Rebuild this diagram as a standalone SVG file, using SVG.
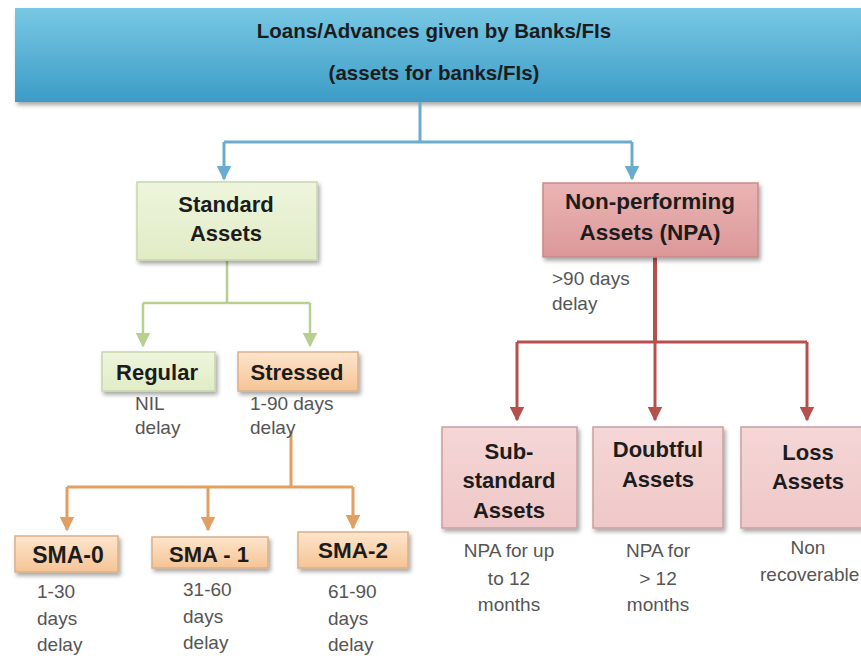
<svg xmlns="http://www.w3.org/2000/svg" width="861" height="660" viewBox="0 0 861 660">
<defs>
<linearGradient id="gBanner" x1="0" y1="0" x2="0" y2="1">
<stop offset="0" stop-color="#78c8e4"/><stop offset="1" stop-color="#3c9cc6"/>
</linearGradient>
<linearGradient id="gGreen" x1="0" y1="0" x2="0" y2="1">
<stop offset="0" stop-color="#eef5dd"/><stop offset="1" stop-color="#e1ecc6"/>
</linearGradient>
<linearGradient id="gOrange" x1="0" y1="0" x2="0" y2="1">
<stop offset="0" stop-color="#fde5cc"/><stop offset="1" stop-color="#f6c495"/>
</linearGradient>
<linearGradient id="gRed" x1="0" y1="0" x2="0" y2="1">
<stop offset="0" stop-color="#eab4b4"/><stop offset="1" stop-color="#dc9899"/>
</linearGradient>
<linearGradient id="gPink" x1="0" y1="0" x2="0" y2="1">
<stop offset="0" stop-color="#f5d6d6"/><stop offset="1" stop-color="#efc7c8"/>
</linearGradient>
<filter id="sh" x="-10%" y="-10%" width="130%" height="140%">
<feDropShadow dx="2" dy="3" stdDeviation="2" flood-color="#000" flood-opacity="0.35"/>
</filter>
<marker id="aBlue" viewBox="0 0 10 10" refX="9" refY="5" markerWidth="5" markerHeight="5" orient="auto" markerUnits="strokeWidth">
<path d="M0,0 L10,5 L0,10 Z" fill="#6aaccd"/>
</marker>
<marker id="aGreen" viewBox="0 0 10 10" refX="9" refY="5" markerWidth="6" markerHeight="6" orient="auto" markerUnits="strokeWidth">
<path d="M0,0 L10,5 L0,10 Z" fill="#b7d090"/>
</marker>
<marker id="aOrange" viewBox="0 0 10 10" refX="9" refY="5" markerWidth="5" markerHeight="5" orient="auto" markerUnits="strokeWidth">
<path d="M0,0 L10,5 L0,10 Z" fill="#e19f62"/>
</marker>
<marker id="aRed" viewBox="0 0 10 10" refX="9" refY="5" markerWidth="5" markerHeight="5" orient="auto" markerUnits="strokeWidth">
<path d="M0,0 L10,5 L0,10 Z" fill="#b5504e"/>
</marker>
</defs>
<style>
.t{font-family:"Liberation Sans",Arial,sans-serif;font-weight:bold;fill:#1c1c1c;text-anchor:middle;font-size:22px}
.s{font-size:22.5px}
.g{font-family:"Liberation Sans",Arial,sans-serif;fill:#555;font-size:19px}
.m{text-anchor:middle}
.c{fill:none;stroke-linejoin:miter}
</style>
<rect width="861" height="660" fill="#ffffff"/>

<g id="banner">
<rect x="15" y="8" width="860" height="94" fill="url(#gBanner)" filter="url(#sh)"/>
<text class="t" x="434" y="38" font-size="20.5" style="font-size:20.5px">Loans/Advances given by Banks/FIs</text>
<text class="t" x="434" y="80" style="font-size:20.5px">(assets for banks/FIs)</text>
</g>

<g id="connectors">
<path class="c" d="M420,102 V142 M224,142 H632" stroke="#6aaccd" stroke-width="3"/>
<path class="c" d="M224,142 V179" stroke="#6aaccd" stroke-width="3" marker-end="url(#aBlue)"/>
<path class="c" d="M632,142 V179" stroke="#6aaccd" stroke-width="3" marker-end="url(#aBlue)"/>

<path class="c" d="M227,261 V303 M143,303 H310" stroke="#b7d090" stroke-width="2.5"/>
<path class="c" d="M143,303 V346" stroke="#b7d090" stroke-width="2.5" marker-end="url(#aGreen)"/>
<path class="c" d="M310,303 V346" stroke="#b7d090" stroke-width="2.5" marker-end="url(#aGreen)"/>

<path class="c" d="M291,432 V487 M67,487 H353" stroke="#e19f62" stroke-width="3"/>
<path class="c" d="M67,487 V530" stroke="#e19f62" stroke-width="3" marker-end="url(#aOrange)"/>
<path class="c" d="M208,487 V530" stroke="#e19f62" stroke-width="3" marker-end="url(#aOrange)"/>
<path class="c" d="M353,487 V528" stroke="#e19f62" stroke-width="3" marker-end="url(#aOrange)"/>

<path class="c" d="M655,257 V342" stroke="#b5504e" stroke-width="4"/>
<path class="c" d="M517,342 H807" stroke="#b5504e" stroke-width="3"/>
<path class="c" d="M517,342 V420" stroke="#b5504e" stroke-width="3" marker-end="url(#aRed)"/>
<path class="c" d="M655,342 V420" stroke="#b5504e" stroke-width="3" marker-end="url(#aRed)"/>
<path class="c" d="M807,342 V420" stroke="#b5504e" stroke-width="3" marker-end="url(#aRed)"/>
</g>

<g id="standard">
<rect x="137" y="182" width="180" height="78" fill="url(#gGreen)" stroke="#c9d6ad" stroke-width="1.5" filter="url(#sh)"/>
<text class="t" x="226" y="212">Standard</text>
<text class="t" x="226" y="241">Assets</text>
</g>

<g id="npa">
<rect x="543" y="183" width="215" height="74" fill="url(#gRed)" stroke="#c98a8b" stroke-width="1.5" filter="url(#sh)"/>
<text class="t s" x="650" y="209">Non-performing</text>
<text class="t s" x="650" y="240">Assets (NPA)</text>
<text class="g" x="552" y="285">&gt;90 days</text>
<text class="g" x="552" y="310">delay</text>
</g>

<g id="regular">
<rect x="102" y="352" width="113" height="39" fill="url(#gGreen)" stroke="#c9d6ad" stroke-width="1.5" filter="url(#sh)"/>
<text class="t" x="157" y="380">Regular</text>
<text class="g" x="135" y="410">NIL</text>
<text class="g" x="135" y="434">delay</text>
</g>

<g id="stressed">
<rect x="238" y="352" width="120" height="39" fill="url(#gOrange)" stroke="#d9b08a" stroke-width="1.5" filter="url(#sh)"/>
<text class="t" x="297" y="380">Stressed</text>
<text class="g" x="250" y="410">1-90 days</text>
<text class="g" x="250" y="434">delay</text>
</g>

<g id="sma0">
<rect x="15" y="536" width="103" height="36" fill="url(#gOrange)" stroke="#d9b08a" stroke-width="1.5" filter="url(#sh)"/>
<text class="t" x="68" y="563" style="font-size:23px">SMA-0</text>
<text class="g" x="37" y="598">1-30</text>
<text class="g" x="37" y="625">days</text>
<text class="g" x="37" y="651">delay</text>
</g>

<g id="sma1">
<rect x="152" y="537" width="116" height="31" fill="url(#gOrange)" stroke="#d9b08a" stroke-width="1.5" filter="url(#sh)"/>
<text class="t" x="209" y="562" style="font-size:22px">SMA - 1</text>
<text class="g" x="183" y="596">31-60</text>
<text class="g" x="183" y="623">days</text>
<text class="g" x="183" y="649">delay</text>
</g>

<g id="sma2">
<rect x="298" y="532" width="110" height="36" fill="url(#gOrange)" stroke="#d9b08a" stroke-width="1.5" filter="url(#sh)"/>
<text class="t" x="353" y="558" style="font-size:22.5px">SMA-2</text>
<text class="g" x="328" y="598">61-90</text>
<text class="g" x="328" y="625">days</text>
<text class="g" x="328" y="651">delay</text>
</g>

<g id="substandard">
<rect x="442" y="427" width="135" height="101" fill="url(#gPink)" stroke="#c9a0a1" stroke-width="1.5" filter="url(#sh)"/>
<text class="t" x="509" y="459">Sub-</text>
<text class="t" x="509" y="488">standard</text>
<text class="t" x="509" y="518">Assets</text>
<text class="g m" x="509" y="557">NPA for up</text>
<text class="g m" x="509" y="585">to 12</text>
<text class="g m" x="509" y="611">months</text>
</g>

<g id="doubtful">
<rect x="593" y="427" width="130" height="101" fill="url(#gPink)" stroke="#c9a0a1" stroke-width="1.5" filter="url(#sh)"/>
<text class="t" x="658" y="457">Doubtful</text>
<text class="t" x="658" y="487">Assets</text>
<text class="g m" x="658" y="557">NPA for</text>
<text class="g m" x="658" y="585">&gt; 12</text>
<text class="g m" x="658" y="611">months</text>
</g>

<g id="loss">
<rect x="741" y="427" width="140" height="101" fill="url(#gPink)" stroke="#c9a0a1" stroke-width="1.5" filter="url(#sh)"/>
<text class="t" x="808" y="460">Loss</text>
<text class="t" x="808" y="489">Assets</text>
<text class="g m" x="808" y="554">Non</text>
<text class="g" x="760" y="581">recoverable</text>
</g>
</svg>
